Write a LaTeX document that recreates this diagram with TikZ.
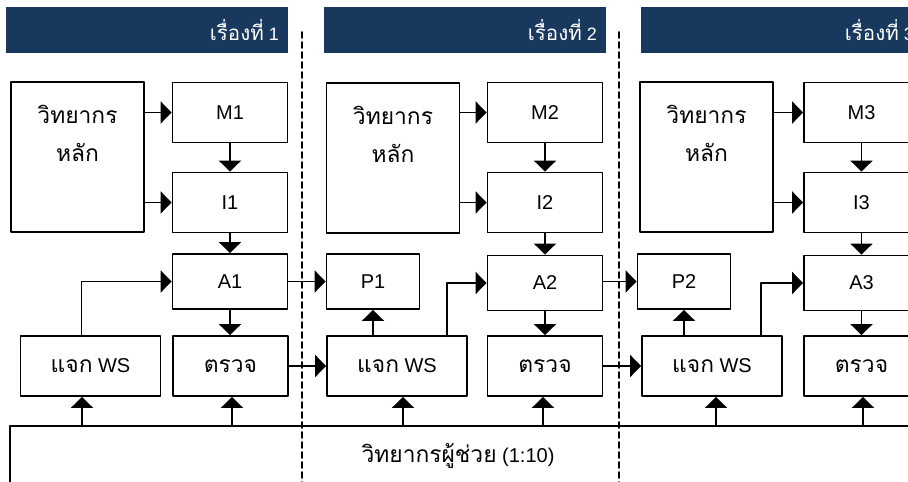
\documentclass[tikz,border=0pt]{standalone}
\usepackage{fontspec}
\setmainfont{Liberation Sans}
\newfontfamily\thaifont[Script=Thai,Scale=1.14]{Loma}
\usetikzlibrary{arrows.meta}
\definecolor{hdrblue}{rgb}{0.1,0.22,0.37}

\begin{document}
\begin{tikzpicture}[line cap=round,line join=round,>={Triangle[length=11pt,width=22pt]},x=1pt,y=-1pt,
  every node/.style={font=\fontsize{20}{38}\selectfont},
  thai/.style={font=\thaifont\fontsize{20}{38}\selectfont},
  hdrtxt/.style={anchor=east,inner sep=0pt,text=white,font=\fontsize{18}{22}\selectfont},
  box/.style={draw,line width=1.8pt,inner sep=0pt,minimum width=115pt,minimum height=60pt},
  bigbox/.style={box,minimum width=133pt,minimum height=150pt},
  wsbox/.style={box,minimum width=140pt},
  pbox/.style={box,minimum width=93pt,minimum height=55pt},
  abox/.style={box,minimum height=55pt},
  lectxt/.style={thai,align=center,yshift=24pt},
  conn/.style={->,line width=1.8pt},
  sep/.style={line width=1.6pt,dash pattern=on 6pt off 4pt}]
\useasboundingbox (0,0) rectangle (908,482);
\clip (0,0) rectangle (908,482);
% headers
\foreach \x/\n in {6/1,324/2,641/3}{
\fill[hdrblue] (\x,7) rectangle ++(282,46);
\node[hdrtxt] (hdr\n) at (\x+273,30) {{\thaifont เรื่องที่} \n};
}
% separators
\draw[sep] (302,32) -- (302,482);
\draw[sep] (619,32) -- (619,482);
% story 1
\node[bigbox,label={[lectxt]center:วิทยากร\\หลัก}] (lec1) at (77.5,157) {};
\node[box] (m1) at (230,112.5) {M1};
\node[box] (i1) at (230,202.5) {I1};
\node[abox] (a1) at (230,281.5) {A1};
\node[wsbox] (ws1) at (90.5,366) {{\thaifont แจก} WS};
\node[box,thai] (chk1) at (230.5,366) {ตรวจ};
% story 2
\node[bigbox,label={[lectxt]center:วิทยากร\\หลัก}] (lec2) at (393,158) {};
\node[box] (m2) at (545,112.5) {M2};
\node[box] (i2) at (545,202.5) {I2};
\node[pbox] (p1) at (373,281.5) {P1};
\node[abox] (a2) at (545,283) {A2};
\node[wsbox] (ws2) at (397,366) {{\thaifont แจก} WS};
\node[box,thai] (chk2) at (545,366) {ตรวจ};
% story 3
\node[bigbox,label={[lectxt]center:วิทยากร\\หลัก}] (lec3) at (706.5,157) {};
\node[box] (m3) at (861.5,112.5) {M3};
\node[box] (i3) at (861.5,202.5) {I3};
\node[pbox] (p2) at (684,281.5) {P2};
\node[abox] (a3) at (861.5,283) {A3};
\node[wsbox] (ws3) at (712,366) {{\thaifont แจก} WS};
\node[box,thai] (chk3) at (861.5,366) {ตรวจ};
% assistant
\coordinate (aline) at (10,426);
\draw[line width=1.8pt] (10,490) -- (aline) -- (930,426);
\node (asst) at (458,456) {{\thaifont วิทยากรผู้ช่วย} (1:10)};
% connectors
\foreach \s in {1,2,3}{
\draw[conn] (lec\s.east |- m\s.west) -- (m\s.west);
\draw[conn] (lec\s.east |- i\s.west) -- (i\s.west);
\draw[conn] (m\s.south) -- (i\s.north);
\draw[conn] (i\s.south) -- (a\s.north);
\draw[conn] (a\s.south) -- (a\s.south |- chk\s.north);
}
\draw[conn] ([xshift=-9pt]ws1.north) |- (a1.west);
\draw[conn] ([xshift=50pt]ws2.north) |- (a2.west);
\draw[conn] ([xshift=49pt]ws3.north) |- (a3.west);
\draw[conn] (a1.east) -- (p1.west);
\draw[conn] (a2.east |- p2.west) -- (p2.west);
\draw[conn] (chk1.east) -- (ws2.west);
\draw[conn] (chk2.east) -- (ws3.west);
\draw[conn] (p1.south |- ws2.north) -- (p1.south);
\draw[conn] (p2.south |- ws3.north) -- (p2.south);
\foreach \n/\d in {ws1/-8.5,chk1/1.5,ws2/6,chk2/-2,ws3/4,chk3/1.5}{
\coordinate (t) at ([xshift=\d pt]\n.south);
\draw[conn] (t |- aline) -- (t);
}
\end{tikzpicture}
\end{document}
